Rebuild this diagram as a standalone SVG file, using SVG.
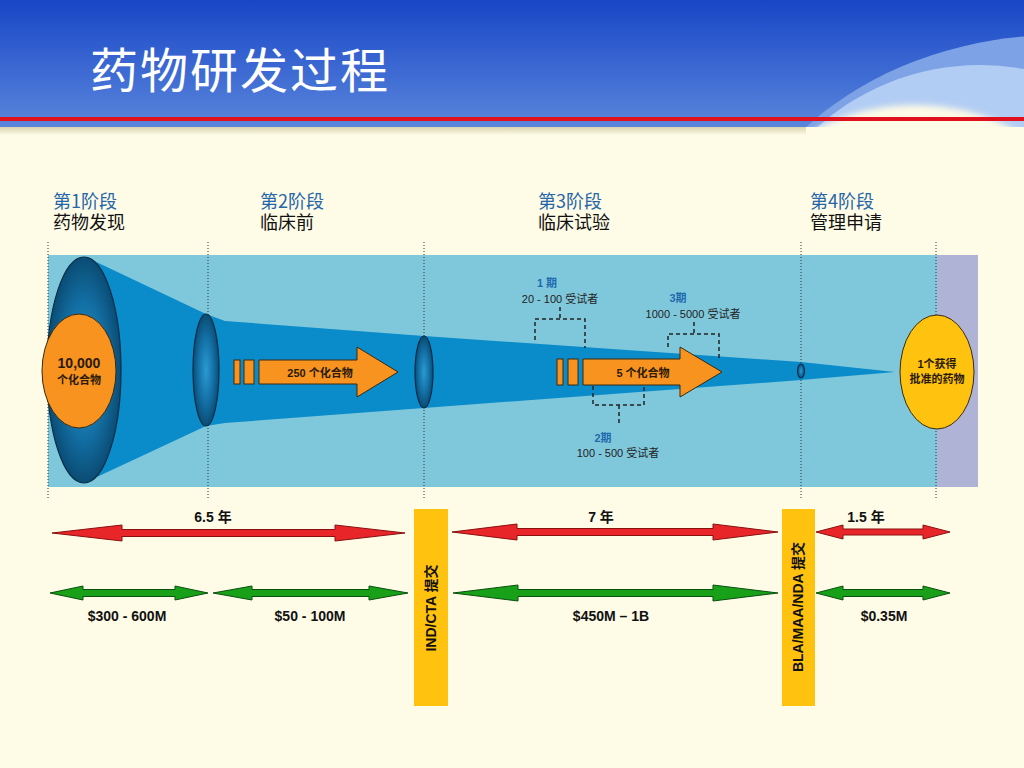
<svg xmlns="http://www.w3.org/2000/svg" width="1024" height="768" viewBox="0 0 1024 768">
<defs>
<linearGradient id="hdr" x1="0" y1="0" x2="0" y2="1">
<stop offset="0" stop-color="#1846C6"/>
<stop offset="1" stop-color="#5A86DC"/>
</linearGradient>
<linearGradient id="shadow" x1="0" y1="0" x2="0" y2="1">
<stop offset="0" stop-color="#D8D4B0"/>
<stop offset="1" stop-color="#FEFBE6"/>
</linearGradient>
<radialGradient id="lens" cx="0.5" cy="0.5" r="0.5">
<stop offset="0" stop-color="#2A9AD2"/>
<stop offset="0.6" stop-color="#136FA4"/>
<stop offset="1" stop-color="#0A4C74"/>
</radialGradient>
<clipPath id="hclip"><rect x="0" y="0" width="1024" height="127"/></clipPath>
<filter id="soft" x="-20%" y="-20%" width="140%" height="140%"><feGaussianBlur stdDeviation="3"/></filter>
</defs>
<style>
.cn{font-family:"Noto Sans CJK SC","Noto Sans",sans-serif}
.nr{font-family:"Liberation Sans Narrow","Liberation Sans","Noto Sans CJK SC",sans-serif}
.ph{font-size:18px}
.pb{fill:#2466A8}
.pk{fill:#111}
.dot{stroke:#333;stroke-width:1;stroke-dasharray:1,2;fill:none}
.lens{fill:url(#lens);stroke:#0A2E48;stroke-width:1.2}
.org{fill:#F7931E;stroke:#3A2A10;stroke-width:1}
.brk{fill:none;stroke:#222;stroke-width:1.5;stroke-dasharray:4,3}
.red{fill:#E8262A;stroke:#8A1010;stroke-width:1}
.grn{fill:#18A018;stroke:#0A5010;stroke-width:1}
.bar{fill:#FFC20E}
.lb{font-size:14px;font-weight:bold;fill:#111;text-anchor:middle}
.sm{font-size:11px;fill:#222;text-anchor:middle}
.smb{font-size:11px;font-weight:bold;fill:#1F6AAE;text-anchor:middle}
.in{font-size:11px;font-weight:bold;fill:#2A1A08;text-anchor:middle}
</style>
<rect x="0" y="0" width="1024" height="768" fill="#FEFBE6"/>
<g id="header">
<rect x="0" y="0" width="1024" height="127" fill="url(#hdr)"/>
<g clip-path="url(#hclip)">
<ellipse cx="1060" cy="300" rx="335" ry="265" fill="#7EA2E6"/>
<ellipse cx="980" cy="300" rx="240" ry="235" fill="#B2CDF4"/>
<ellipse cx="915" cy="190" rx="140" ry="85" fill="#FEFBE6" filter="url(#soft)"/>
</g>
<rect x="0" y="127" width="806" height="8" fill="url(#shadow)"/>
<rect x="0" y="117" width="1024" height="4" fill="#E0101C"/>
<text x="90" y="88" class="cn" font-size="48" fill="#FFFFFF" letter-spacing="2">药物研发过程</text>
</g>
<g id="phases">
<text x="53" y="208" class="cn ph"><tspan class="pb">第1阶段</tspan><tspan x="53" dy="21" class="pk">药物发现</tspan></text>
<text x="260" y="208" class="cn ph"><tspan class="pb">第2阶段</tspan><tspan x="260" dy="21" class="pk">临床前</tspan></text>
<text x="538" y="208" class="cn ph"><tspan class="pb">第3阶段</tspan><tspan x="538" dy="21" class="pk">临床试验</tspan></text>
<text x="810" y="208" class="cn ph"><tspan class="pb">第4阶段</tspan><tspan x="810" dy="21" class="pk">管理申请</tspan></text>
</g>
<g id="band">
<rect x="48" y="255" width="890" height="232" fill="#7FC8DC"/>
<rect x="937" y="255" width="41" height="232" fill="#AFB3D5"/>
<polygon points="90,259 206,314 225,321 424,336 801,362 895,372 801,380 424,408 225,423 206,426 84,483" fill="#0A8CCB"/>
</g>
<g id="guides">
<line x1="48" y1="242" x2="48" y2="498" class="dot"/>
<line x1="208" y1="242" x2="208" y2="498" class="dot"/>
<line x1="424" y1="242" x2="424" y2="498" class="dot"/>
<line x1="801" y1="242" x2="801" y2="498" class="dot"/>
<line x1="936" y1="242" x2="936" y2="498" class="dot"/>
</g>
<g id="start">
<ellipse cx="84" cy="370" rx="37" ry="113" class="lens"/>
<ellipse cx="79" cy="371" rx="37" ry="57" class="org"/>
<text x="79" y="368" class="nr" font-size="14" font-weight="bold" fill="#2A1A08" text-anchor="middle">10,000</text>
<text x="79" y="384" class="cn in" font-weight="normal">个化合物</text>
</g>
<g id="lens2"><ellipse cx="206" cy="370" rx="13" ry="56" class="lens"/></g>
<g id="lens3"><ellipse cx="424" cy="372" rx="9" ry="36" class="lens"/></g>
<g id="lens4"><ellipse cx="801" cy="371" rx="3.5" ry="7" class="lens"/></g>
<g id="arrow250">
<rect x="234" y="360" width="6" height="24" class="org"/>
<rect x="244" y="360" width="10" height="24" class="org"/>
<polygon points="259,360 357,360 357,347 398,372 357,397 357,384 259,384" class="org"/>
<text x="320" y="377" class="nr in">250 个化合物</text>
</g>
<g id="arrow5">
<rect x="557" y="359" width="6" height="26" class="org"/>
<rect x="568" y="359" width="10" height="26" class="org"/>
<polygon points="583,359 680,359 680,347 722,372 680,397 680,385 583,385" class="org"/>
<text x="643" y="377" class="nr in">5 个化合物</text>
</g>
<g id="end">
<ellipse cx="937" cy="372" rx="37" ry="57" fill="#FFC20E" stroke="#3A2A10" stroke-width="1"/>
<text x="937" y="368" class="nr in">1个获得</text>
<text x="937" y="383" class="nr in">批准的药物</text>
</g>
<g id="trials">
<polyline points="535,340 535,319 585,319 585,348" class="brk"/>
<line x1="560" y1="307" x2="560" y2="319" class="brk"/>
<polyline points="668,347 668,334 719,334 719,358" class="brk"/>
<line x1="694" y1="322" x2="694" y2="334" class="brk"/>
<polyline points="593,386 593,405 644,405 644,386" class="brk"/>
<line x1="619" y1="405" x2="619" y2="424" class="brk"/>
<text x="547" y="287" class="nr smb">1 期</text>
<text x="560" y="303" class="nr sm">20 - 100 受试者</text>
<text x="678" y="302" class="nr smb">3期</text>
<text x="693" y="318" class="nr sm">1000 - 5000 受试者</text>
<text x="603" y="442" class="nr smb">2期</text>
<text x="618" y="457" class="nr sm">100 - 500 受试者</text>
</g>
<g id="submissions">
<rect x="414" y="509" width="34" height="197" class="bar"/>
<text transform="translate(436,608) rotate(-90)" class="nr lb">IND/CTA 提交</text>
<rect x="782" y="509" width="33" height="197" class="bar"/>
<text transform="translate(803,607) rotate(-90)" class="nr lb">BLA/MAA/NDA 提交</text>
</g>
<g id="timeline">
<polygon points="52,533 122,525 122,529.5 335,529.5 335,525 405,533 335,541 335,536.5 122,536.5 122,541" class="red"/>
<polygon points="452,532 517,524 517,528.5 713,528.5 713,524 778,532 713,540 713,535.5 517,535.5 517,540" class="red"/>
<polygon points="816,532 843,525 843,529 923,529 923,525 950,532 923,539 923,535 843,535 843,539" class="red"/>
<polygon points="50,593 83,586 83,589.5 175,589.5 175,586 208,593 175,600 175,596.5 83,596.5 83,600" class="grn"/>
<polygon points="213,593 252,586 252,589.5 369,589.5 369,586 408,593 369,600 369,596.5 252,596.5 252,600" class="grn"/>
<polygon points="453,593 518,585 518,589.5 713,589.5 713,585 778,593 713,601 713,596.5 518,596.5 518,601" class="grn"/>
<polygon points="816,593 843,586 843,589.5 923,589.5 923,586 950,593 923,600 923,596.5 843,596.5 843,600" class="grn"/>
<text x="213" y="522" class="nr lb">6.5 年</text>
<text x="601" y="522" class="nr lb">7 年</text>
<text x="866" y="522" class="nr lb">1.5 年</text>
<text x="127" y="621" class="nr lb">$300 - 600M</text>
<text x="310" y="621" class="nr lb">$50 - 100M</text>
<text x="611" y="621" class="nr lb">$450M – 1B</text>
<text x="884" y="621" class="nr lb">$0.35M</text>
</g>
</svg>
